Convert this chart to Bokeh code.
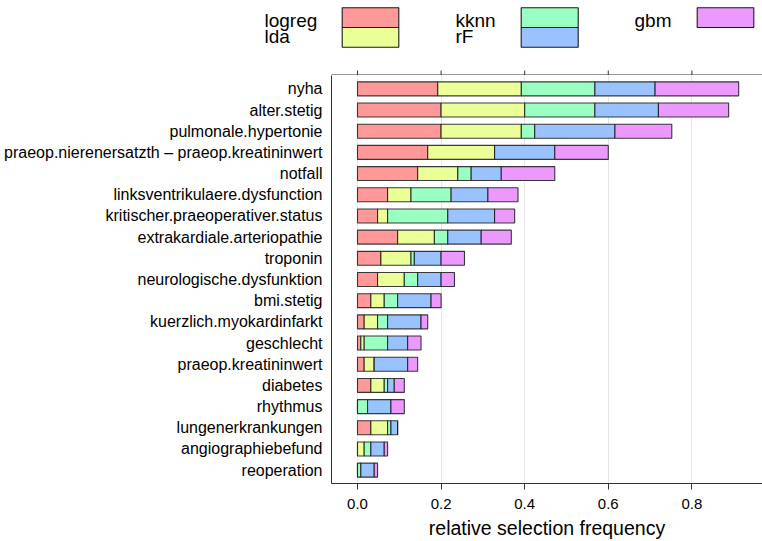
from bokeh.plotting import figure
from bokeh.models import Range1d, FixedTicker, LinearAxis, ColumnDataSource
from bokeh.layouts import column
from bokeh.core.properties import value
from bokeh.embed import file_html
from bokeh.resources import INLINE

# Variables, ordered from the most to the least frequently selected
variables = [
    "nyha", "alter.stetig", "pulmonale.hypertonie",
    "praeop.nierenersatzth \u2013 praeop.kreatininwert", "notfall",
    "linksventrikulaere.dysfunction", "kritischer.praeoperativer.status",
    "extrakardiale.arteriopathie", "troponin", "neurologische.dysfunktion",
    "bmi.stetig", "kuerzlich.myokardinfarkt", "geschlecht",
    "praeop.kreatininwert", "diabetes", "rhythmus", "lungenerkrankungen",
    "angiographiebefund", "reoperation",
]

methods = ["logreg", "lda", "kknn", "rF", "gbm"]

# relative selection frequency contributed by each method
logreg = [0.192, 0.200, 0.200, 0.168, 0.144, 0.072, 0.048, 0.096, 0.056, 0.048,
          0.032, 0.016, 0.008, 0.016, 0.032, 0.000, 0.032, 0.000, 0.000]
lda = [0.200, 0.200, 0.192, 0.160, 0.096, 0.056, 0.024, 0.088, 0.072, 0.064,
       0.032, 0.032, 0.008, 0.024, 0.032, 0.000, 0.040, 0.016, 0.000]
kknn = [0.176, 0.168, 0.032, 0.000, 0.032, 0.096, 0.144, 0.032, 0.008, 0.032,
        0.032, 0.024, 0.056, 0.000, 0.008, 0.024, 0.008, 0.016, 0.008]
rF = [0.144, 0.152, 0.192, 0.144, 0.072, 0.088, 0.112, 0.080, 0.064, 0.056,
      0.080, 0.080, 0.048, 0.080, 0.016, 0.056, 0.016, 0.032, 0.032]
gbm = [0.200, 0.168, 0.136, 0.128, 0.128, 0.072, 0.048, 0.072, 0.056, 0.032,
       0.024, 0.016, 0.032, 0.024, 0.024, 0.032, 0.000, 0.008, 0.008]

x_ticks = [0.0, 0.2, 0.4, 0.6, 0.8]
x_tick_labels = ["0.0", "0.2", "0.4", "0.6", "0.8"]
x_label = "relative selection frequency"

colors = ["#FF9999", "#EBFF99", "#99FFC2", "#99C2FF", "#EB99FF"]
series = [logreg, lda, kknn, rF, gbm]

FONT = "Liberation Sans"
AXIS_COLOR = "#333333"
EDGE_COLOR = "#1a1a1a"

W = 762
LEFT = 331          # width of the label margin left of the panel
KEY_H = 75          # height of the key strip above the panel
MAIN_H = 541 - KEY_H

x_range = Range1d(-0.0622, 0.969)

# ---------------- main bar chart ----------------
n = len(variables)
ypos = [n - i for i in range(n)]  # first variable on top

p = figure(width=W, height=MAIN_H, output_backend="svg", toolbar_location=None,
           x_range=x_range, y_range=Range1d(0.37, n + 0.63),
           x_axis_location=None, y_axis_location=None,
           min_border_left=LEFT, min_border_right=0, min_border_top=0,
           min_border_bottom=58)
p.outline_line_color = None
p.background_fill_color = "white"
p.border_fill_color = "white"

p.xgrid.ticker = FixedTicker(ticks=x_ticks)
p.xgrid.grid_line_color = "#E6E6E6"
p.xgrid.grid_line_width = 1
p.ygrid.grid_line_color = None

left = [0.0] * n
for name, vals, col in zip(methods, series, colors):
    right = [a + b for a, b in zip(left, vals)]
    src = ColumnDataSource(dict(y=ypos, left=left, right=right))
    p.hbar(y="y", left="left", right="right", height=0.66, source=src,
           fill_color=col, line_color=EDGE_COLOR, line_width=1.1, line_alpha=0.85)
    left = right

# bottom axis with tick labels and title
xb = LinearAxis(ticker=FixedTicker(ticks=x_ticks),
                major_label_overrides={t: s for t, s in zip(x_ticks, x_tick_labels)},
                axis_label=x_label)
xb.axis_line_color = AXIS_COLOR
xb.major_tick_line_color = AXIS_COLOR
xb.major_tick_out = 6
xb.major_tick_in = 0
xb.minor_tick_line_color = None
xb.major_label_standoff = 9
xb.major_label_text_font = FONT
xb.major_label_text_font_size = "15px"
xb.major_label_text_color = "black"
xb.axis_label_text_font = FONT
xb.axis_label_text_font_size = "19.5px"
xb.axis_label_text_font_style = "normal"
xb.axis_label_text_color = "black"
xb.axis_label_standoff = 5
p.add_layout(xb, "below")

# left axis with variable names
yl = LinearAxis(ticker=FixedTicker(ticks=ypos),
                major_label_overrides={y: v for y, v in zip(ypos, variables)})
yl.axis_line_color = AXIS_COLOR
yl.major_tick_line_color = None
yl.minor_tick_line_color = None
yl.major_tick_out = 0
yl.major_tick_in = 0
yl.major_label_standoff = 9
yl.major_label_text_font = FONT
yl.major_label_text_font_size = "16px"
yl.major_label_text_color = "black"
p.add_layout(yl, "left")

# ---------------- key strip above the chart ----------------
# pixel coordinates across the whole width; its frame is not aligned with the chart
key = figure(width=W, height=KEY_H, output_backend="svg", toolbar_location=None,
             x_range=Range1d(0, W), y_range=Range1d(KEY_H, 0),
             x_axis_location=None, y_axis_location=None,
             min_border_left=0, min_border_right=0, min_border_top=0,
             min_border_bottom=0)
key.frame_align = False
key.outline_line_color = None
key.xgrid.grid_line_color = None
key.ygrid.grid_line_color = None


def to_px(v):
    """data x of the chart -> pixel x of the page"""
    return LEFT + (v - x_range.start) / (x_range.end - x_range.start) * (W - LEFT)


# top border of the panel with its outward ticks
tick_px = [to_px(t) for t in x_ticks]
key.segment(x0=[LEFT], x1=[W], y0=[KEY_H - 0.5], y1=[KEY_H - 0.5],
            line_color=AXIS_COLOR, line_width=1)
key.segment(x0=tick_px, x1=tick_px, y0=[KEY_H - 5] * len(tick_px),
            y1=[KEY_H] * len(tick_px), line_color=AXIS_COLOR, line_width=1)

# key entries: (text x, box left, box right) per column, two entries per column
key_cols = [(264, 341.7, 398.3), (455, 520.7, 577.7), (634, 696.7, 753.3)]
row_text_y = [20, 36]
row_box = [(7.3, 27.0), (27.0, 46.7)]

for k, (name, col) in enumerate(zip(methods, colors)):
    c, r = divmod(k, 2)
    tx, bl, br = key_cols[c]
    top, bot = row_box[r]
    key.quad(left=[bl], right=[br], top=[top], bottom=[bot],
             fill_color=col, line_color=EDGE_COLOR, line_width=1.1)
    key.text(x=[tx], y=[row_text_y[r]], text=[name], text_font=value(FONT),
             text_font_size="19px", text_baseline="alphabetic", text_align="left",
             text_color="black")

layout = column(key, p, spacing=0)

open("out.html", "w").write(file_html(layout, INLINE))
